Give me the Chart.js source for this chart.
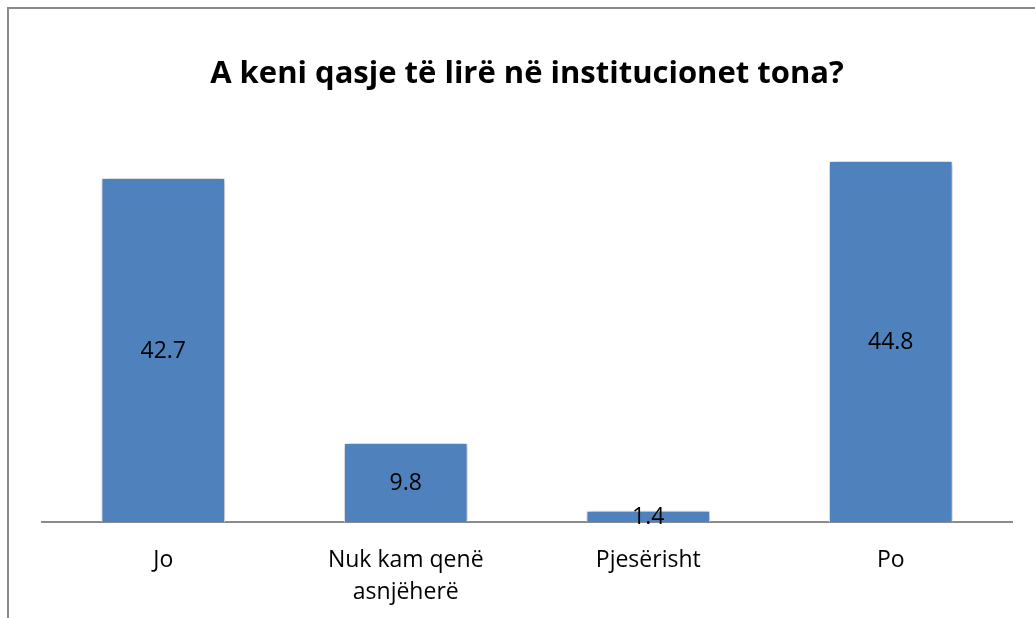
<!DOCTYPE html>
<html>
<head>
<meta charset="utf-8">
<script src="https://cdn.jsdelivr.net/npm/chart.js@4.4.1/dist/chart.umd.min.js"></script>
<style>
  html, body { margin: 0; padding: 0; background: #fff; overflow: hidden; }
  #wrap { position: relative; width: 1035px; height: 618px; }
  #frame { position: absolute; left: 7px; top: 7px; width: 1100px; height: 700px;
           border: 2px solid #8a8a8a; box-sizing: border-box; }
  canvas { position: absolute; left: 0; top: 0; }
</style>
</head>
<body>
<div id="wrap">
  <div id="frame"></div>
  <canvas id="myChart" width="1035" height="618"></canvas>
</div>
<script>
document.addEventListener('DOMContentLoaded', function(){

    // data
    const categories = ['Jo', ['Nuk kam qenë', 'asnjëherë'], 'Pjesërisht', 'Po'];
    const values = [42.7, 9.8, 1.4, 44.8];
    const chartTitle = 'A keni qasje të lirë në institucionet tona?';

    // shadow behind bars + value labels in the middle of each bar
    const barDecor = {
      id: 'barDecor',
      beforeDatasetsDraw(chart) {
        const c = chart.ctx;
        c.save();
        c.shadowColor = 'rgba(0,0,0,0.4)';
        c.shadowBlur = 7;
        c.shadowOffsetX = 1;
        c.shadowOffsetY = 1;
      },
      afterDatasetsDraw(chart) {
        const c = chart.ctx;
        c.restore();
        c.save();
        c.font = '23px "Open Sans"';
        c.fillStyle = '#000';
        c.textAlign = 'center';
        c.textBaseline = 'middle';
        chart.getDatasetMeta(0).data.forEach(function(bar, i){
          const mid = (bar.y + bar.base) / 2;
          c.fillText(values[i].toFixed(1), bar.x, mid + 1);
        });
        c.restore();
      }
    };

    const ctx = document.getElementById('myChart');
    new Chart(ctx, {
      type: 'bar',
      data: {
        labels: categories,
        datasets: [{
          data: values,
          backgroundColor: '#4F81BD',
          borderColor: 'rgba(255,255,255,0.9)',
          borderWidth: 1,
          categoryPercentage: 1,
          barPercentage: 0.51
        }]
      },
      options: {
        responsive: false,
        animation: false,
        layout: { padding: { left: 42, right: 23, top: 0, bottom: 0 } },
        plugins: {
          legend: { display: false },
          tooltip: { enabled: false },
          title: {
            display: true,
            text: chartTitle,
            color: '#000',
            font: { family: 'Open Sans', size: 31, weight: 'bold', lineHeight: 1.2 },
            padding: { top: 56, bottom: 26 }
          }
        },
        scales: {
          y: {
            display: false,
            min: 0,
            max: 50
          },
          x: {
            grid: { display: false },
            border: { display: true, color: '#8a8a8a', width: 2 },
            ticks: {
              color: '#000',
              padding: 14,
              maxRotation: 0,
              font: { family: 'Open Sans', size: 23, lineHeight: 1.39 }
            },
            afterFit(scale) { scale.height = 96; }
          }
        }
      },
      plugins: [barDecor]
    });

});
</script>
</body>
</html>
